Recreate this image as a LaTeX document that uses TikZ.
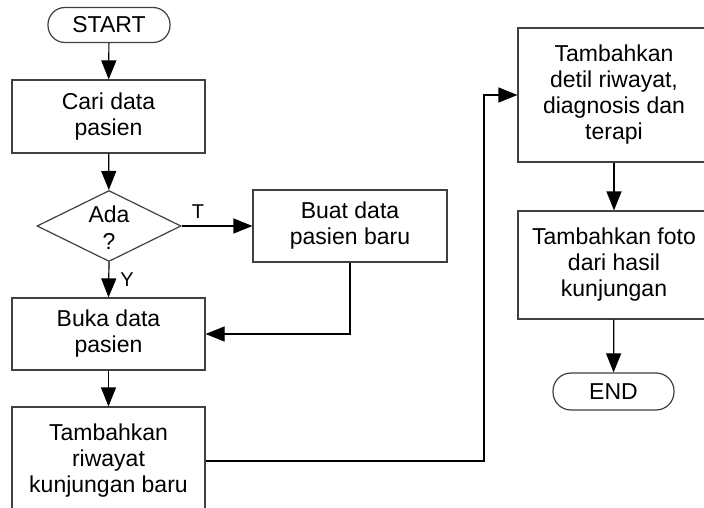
\documentclass[tikz,border=0pt]{standalone}
\usepackage{fontspec}
\setmainfont{Liberation Sans}
\usetikzlibrary{arrows.meta,shapes.geometric}
\begin{document}
\begin{tikzpicture}[x=1pt,y=-1pt,
  box/.style={draw=black!75, line width=1.2pt, rectangle, inner sep=0pt, align=center,
    font=\fontsize{23}{26}\selectfont},
  term/.style={draw=black!75, line width=1.2pt, rectangle, rounded corners=17pt, inner sep=0pt,
    font=\fontsize{23}{26}\selectfont},
  dia/.style={draw=black!75, line width=1.2pt, diamond, inner sep=0pt},
  txt/.style={inner sep=0pt, align=center, font=\fontsize{23}{27}\selectfont},
  lbl/.style={inner sep=0pt, font=\fontsize{20}{22}\selectfont},
  conn/.style={draw=black, line width=1.2pt, -{Triangle[length=19pt,width=15pt]}},
  line/.style={draw=black, line width=1.2pt}]
\useasboundingbox (0,0) rectangle (704,508);
\clip (0,0) rectangle (704,508);
\fill[white] (0,0) rectangle (704,508);

\node[term, minimum width=122pt, minimum height=35pt] (start) at (109,25) {START};
\node[box, minimum width=193pt, minimum height=73pt] (cari) at (108.5,116.5) {Cari data\\pasien};
\node[dia, minimum width=144pt, minimum height=71pt] (ada) at (109,226) {};
\node[txt] (adatxt) at (109,228) {Ada\\?};
\node[box, minimum width=194pt, minimum height=72pt] (buat) at (350,226) {Buat data\\pasien baru};
\node[box, minimum width=193pt, minimum height=72pt] (buka) at (108.5,334) {Buka data\\pasien};
\node[box, minimum width=193pt, minimum height=108pt] (tamb) at (108.5,461) {Tambahkan\\riwayat\\kunjungan baru};
\node[box, minimum width=192pt, minimum height=134pt] (detil) at (614,95) {Tambahkan\\detil riwayat,\\diagnosis dan\\terapi};
\node[box, minimum width=192pt, minimum height=108pt] (foto) at (614,265) {Tambahkan foto\\dari hasil\\kunjungan};
\node[term, minimum width=121pt, minimum height=37pt, rounded corners=18pt] (end) at (613.5,391.5) {END};

\node[lbl] (tl) at (198,212) {T};
\node[lbl] (yl) at (127,280) {Y};

\draw[conn] (start) -- (cari);
\draw[conn] (cari) -- (ada);
\draw[conn] (ada.east) -- (buat.west);
\draw[conn] (ada.south) -- (buka.north);
\draw[conn] (buat.south) |- (buka.east);
\draw[conn] (buka) -- (tamb);
\coordinate (bend) at (484,461);
\draw[conn] (tamb.east) -- (bend) |- (detil.west);
\draw[conn] (detil) -- (foto);
\draw[conn] (foto) -- (end);
\end{tikzpicture}
\end{document}
